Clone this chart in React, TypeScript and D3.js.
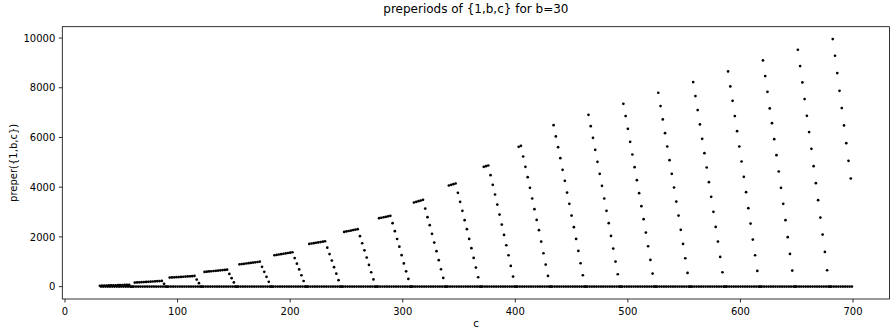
import React from 'react';
import * as d3 from 'd3';

const title = 'preperiods of {1,b,c} for b=30';
const xLabel = 'c';
const yLabel = 'preper({1,b,c})';

// c runs over 31..699; every c not listed below sits at 0
const cFirst = 31;
const cLast = 699;

// each raised run starts at runStarts[i] and then takes every second c
const runStarts = [31, 62, 93, 124, 155, 186, 217, 248, 279, 310, 341, 372, 403, 434, 465, 496, 527, 558, 589, 620, 651, 682];

const run31 = [35, 38, 41, 44, 47, 50, 53, 56, 59, 62, 65, 68, 71, 75];
const run62 = [162, 168, 173, 179, 184, 190, 195, 201, 207, 212, 218, 223, 229, 112];
const run93 = [362, 368, 374, 380, 386, 392, 398, 404, 410, 416, 422, 429, 282, 138];
const run124 = [592, 601, 610, 619, 628, 637, 646, 655, 664, 672, 681, 511, 340, 168];
const run155 = [895, 907, 919, 931, 943, 955, 967, 979, 991, 1004, 798, 597, 395, 195];
const run186 = [1262, 1277, 1292, 1307, 1322, 1337, 1352, 1367, 1382, 1148, 922, 692, 458, 226];
const run217 = [1719, 1734, 1749, 1764, 1779, 1794, 1810, 1826, 1568, 1310, 1048, 784, 520, 258];
const run248 = [2202, 2220, 2238, 2256, 2273, 2291, 2309, 2028, 1745, 1460, 1168, 874, 578, 290];
const run279 = [2752, 2771, 2790, 2809, 2828, 2846, 2551, 2229, 1915, 1605, 1265, 935, 615, 310];
const run310 = [3383, 3410, 3437, 3463, 3490, 3141, 2793, 2471, 2122, 1773, 1424, 1062, 699, 350];
const run341 = [4067, 4094, 4121, 4148, 3772, 3410, 3048, 2672, 2310, 1920, 1545, 1155, 766, 377];
const run372 = [4819, 4846, 4872, 4484, 4094, 3705, 3302, 2900, 2497, 2081, 1665, 1263, 833, 404];
const run403 = [5624, 5664, 5235, 4819, 4403, 3973, 3544, 3115, 2685, 2269, 1813, 1343, 887, 431];
const run434 = [6496, 6040, 5611, 5168, 4698, 4255, 3785, 3329, 2860, 2390, 1920, 1437, 941, 458];
const run465 = [6912, 6456, 5986, 5503, 5020, 4537, 4054, 3544, 3048, 2551, 2041, 1531, 1008, 498];
const run496 = [7355, 6859, 6349, 5825, 5315, 4805, 4282, 3759, 3235, 2712, 2175, 1625, 1075, 525];
const run527 = [7798, 7261, 6724, 6174, 5637, 5087, 4537, 3987, 3423, 2860, 2283, 1719, 1142, 552];
const run558 = [8228, 7664, 7100, 6523, 5946, 5369, 4792, 4202, 3611, 3007, 2403, 1813, 1196, 578];
const run589 = [8657, 8053, 7476, 6859, 6255, 5637, 5033, 4416, 3799, 3155, 2537, 1893, 1263, 632];
const run620 = [9100, 8469, 7838, 7167, 6577, 5933, 5289, 4631, 3973, 3329, 2672, 1988, 1316, 645];
const run651 = [9529, 8872, 8214, 7543, 6872, 6215, 5544, 4846, 4161, 3477, 2779, 2095, 1397, 659];
const run682 = [9958, 9287, 8590, 7878, 7181, 6483, 5772, 5060, 4349];

const runValues = [run31, run62, run93, run124, run155, run186, run217, run248, run279, run310, run341,
  run372, run403, run434, run465, run496, run527, run558, run589, run620, run651, run682];

const xTicks = [0, 100, 200, 300, 400, 500, 600, 700];
const yTicks = [0, 2000, 4000, 6000, 8000, 10000];

const W = 890;
const H = 328;
const margin = { left: 62.3, right: 0.5, top: 26.7, bottom: 29 };
const font = 'DejaVu Sans, sans-serif';

export default function App() {
  const raised = new Map<number, number>();
  runStarts.forEach((s, i) => {
    runValues[i].forEach((v, j) => raised.set(s + 2 * j, v));
  });
  const points = d3.range(cFirst, cLast + 1).map((c) => ({ c, v: raised.get(c) ?? 0 }));

  const xPad = (cLast - cFirst) * 0.05;
  const yMax = d3.max(points, (d) => d.v) as number;
  const yPad = yMax * 0.05;

  const x = d3.scaleLinear().domain([cFirst - xPad, cLast + xPad]).range([margin.left, W - margin.right]);
  const y = d3.scaleLinear().domain([-yPad, yMax + yPad]).range([H - margin.bottom, margin.top]);

  const x0 = margin.left;
  const x1 = W - margin.right;
  const y0 = H - margin.bottom;
  const y1 = margin.top;

  return (
    <svg width={W} height={H} style={{ position: 'absolute', left: 0, top: 0, background: '#fff' }}
      fontFamily={font}>
      <rect x={0} y={0} width={W} height={H} fill="#fff" />
      <text x={(x0 + x1) / 2} y={12.5} textAnchor="middle" fontSize={12}>{title}</text>

      <g>
        {points.map((d) => (
          <circle key={d.c} cx={x(d.c)} cy={y(d.v)} r={1.35} fill="#000" />
        ))}
      </g>

      <rect x={x0} y={y1} width={x1 - x0} height={y0 - y1} fill="none" stroke="#000" strokeWidth={0.8} />

      {xTicks.map((t) => (
        <g key={'x' + t}>
          <line x1={x(t)} x2={x(t)} y1={y0} y2={y0 + 3.5} stroke="#000" strokeWidth={0.8} />
          <text x={x(t)} y={y0 + 15.5} textAnchor="middle" fontSize={10}>{t}</text>
        </g>
      ))}
      {yTicks.map((t) => (
        <g key={'y' + t}>
          <line x1={x0 - 3.5} x2={x0} y1={y(t)} y2={y(t)} stroke="#000" strokeWidth={0.8} />
          <text x={x0 - 7} y={y(t) + 3.6} textAnchor="end" fontSize={10}>{t}</text>
        </g>
      ))}

      <text x={(x0 + x1) / 2} y={H - 1} textAnchor="middle" fontSize={10}>{xLabel}</text>
      <text transform={`translate(17,${(y0 + y1) / 2}) rotate(-90)`} textAnchor="middle" fontSize={10}>
        {yLabel}
      </text>
    </svg>
  );
}
